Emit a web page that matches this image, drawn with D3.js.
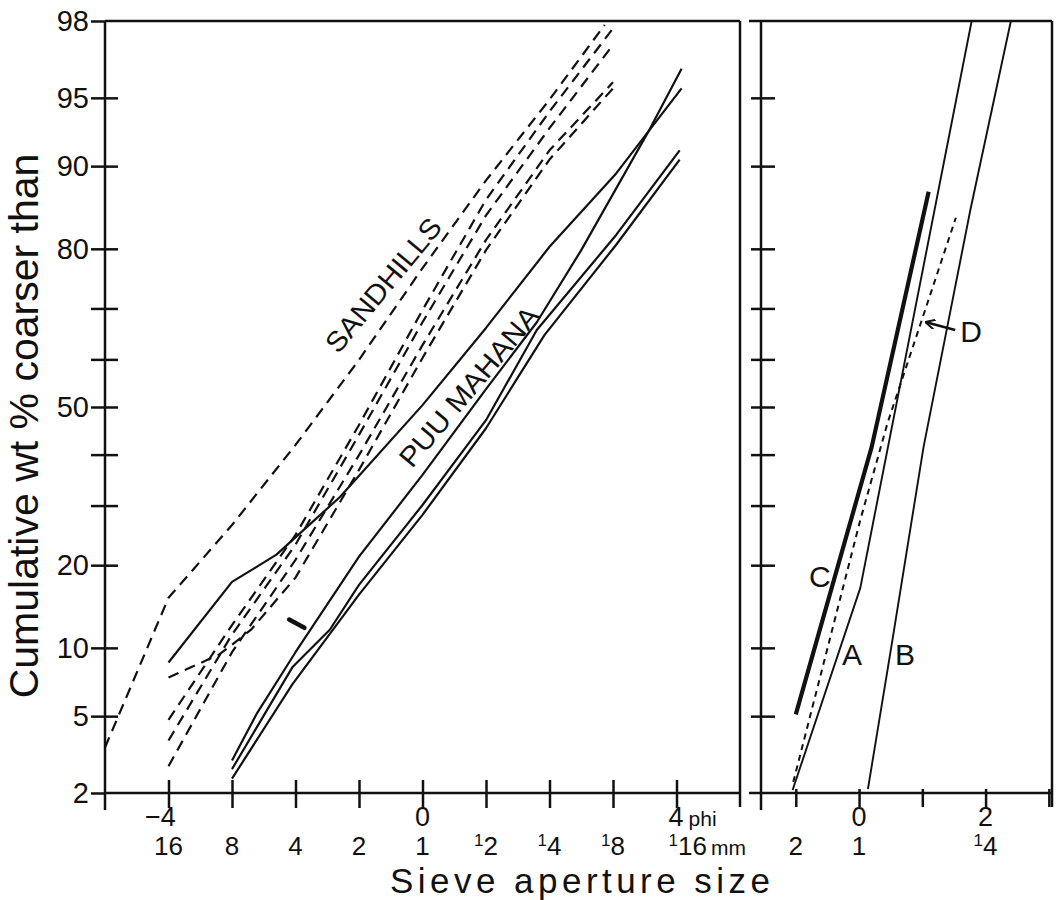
<!DOCTYPE html>
<html lang="en">
<head>
<meta charset="UTF-8">
<title>Cumulative grain size curves</title>
<script src="https://d3js.org/d3.v7.min.js"></script>
<style>
  body { margin: 0; background: #fff; }
  svg { display: block; background: #fff; }
  text { font-family: 'Liberation Sans', Arial, Helvetica, sans-serif; fill: #111; }
  .curve { fill: none; stroke: #111; stroke-linejoin: round; }
  .frame { stroke: #111; stroke-width: 2.5; fill: none; }
  .tick line { stroke: #111; stroke-width: 2.5; }
</style>
</head>
<body>
<div id="chart"></div>
<script>
// sieve ticks (phi) with phi row and mm row labels
const leftTicks = [-4, -3, -2, -1, 0, 1, 2, 3, 4];
const leftPhiLabels = ['−4', '', '', '', '0', '', '', '', '4'];
const leftMmLabels = ['16', '8', '4', '2', '1', '1/2', '1/4', '1/8', '1/16'];
const rightTicks = [-1, 0, 1, 2, 3];
const rightPhiLabels = ['', '0', '', '2', ''];
const rightMmLabels = ['2', '1', '', '1/4', ''];

// probability axis (cumulative wt %)
const pctTicks = [2, 5, 10, 20, 30, 40, 50, 60, 70, 80, 90, 95, 98];
const pctLabels = [2, 5, 10, 20, 50, 80, 90, 95, 98];

// Sandhills samples (dashed)
const sand1Phi = [-5, -4, -3, -2, -1, 0, 1, 2, 2.87];
const sand1Pct = [3.5, 15.5, 26.5, 42, 59.9, 77, 88.6, 94.9, 97.9];
const sand2Phi = [-4, -3.2, -3, -2.7, -2, -1, 0, 1, 2, 3];
const sand2Pct = [7.5, 9.4, 10.3, 11.8, 18.2, 36.9, 60.3, 79.8, 90.6, 95.5];
const sand3Phi = [-4, -3, -2, -1, 0, 1, 2, 3];
const sand3Pct = [4.8, 12.3, 24.8, 46.2, 69.7, 86.5, 94.2, 97.8];
const sand4Phi = [-4, -3, -2, -1, 0, 1, 2, 3];
const sand4Pct = [3.8, 11.3, 23.2, 44.1, 67.4, 84.6, 93.1, 97.3];
const sand5Phi = [-4, -3, -2, -1, 0, 1, 2, 3];
const sand5Pct = [2.8, 9.6, 20.8, 39.9, 62.9, 81.3, 91.4, 95.8];

// Puu Mahana samples (solid)
const puu1Phi = [-4, -3, -2.3, -1.3, 0, 1, 2, 3.05, 4.08];
const puu1Pct = [8.7, 17.6, 21.6, 31.6, 50.4, 66.3, 80.3, 89.3, 95.5];
const puu2Phi = [-3, -2.6, -2, -1, 0, 1, 1.8, 2.5, 3.55, 4.08];
const puu2Pct = [3.0, 5.2, 9.6, 21.3, 35.9, 53.8, 67.4, 79.8, 92.8, 96.4];
const puu3Phi = [-3, -2.05, -1.46, -1, 0, 1, 1.8, 3.05, 4.05];
const puu3Pct = [2.7, 8.3, 11.8, 17.2, 30.1, 47.2, 65.9, 82.0, 91.4];
const puu4Phi = [-3, -2.05, -1, 0, 1, 1.92, 3.05, 4.05];
const puu4Pct = [2.4, 7.0, 15.9, 28.3, 45.5, 64.9, 80.6, 90.6];
// little stroke mark near puu2
const markPhi = [-2.1, -1.86];
const markPct = [12.9, 12.0];

// right panel curves A-D
const curveAPhi = [-1.05, 0.02, 1.78];
const curveAPct = [2.08, 16.8, 98];
const curveBPhi = [0.14, 0.51, 1.02, 1.76, 2.4];
const curveBPct = [2.1, 10.1, 41.6, 85.3, 98];
const curveCPhi = [-1.0, 0.2, 1.1];
const curveCPct = [5.1, 41.6, 87.4];
const curveDPhi = [-1.04, 0.02, 0.45, 1.53];
const curveDPct = [2.3, 27.4, 46.6, 84.3];
const arrowPhi = [1.52, 1.06];
const arrowPct = [65.9, 67.4];

// inverse normal (Acklam) for the probability scale
function probit(p) {
    const a = [-3.969683028665376e+01, 2.209460984245205e+02, -2.759285104469687e+02, 1.383577518672690e+02, -3.066479806614716e+01, 2.506628277459239e+00];
    const b = [-5.447609879822406e+01, 1.615858368580409e+02, -1.556989798598866e+02, 6.680131188771972e+01, -1.328068155288572e+01];
    const c = [-7.784894002430293e-03, -3.223964580411365e-01, -2.400758277161838e+00, -2.549671010115819e+00, 4.374664141464968e+00, 2.938163982698783e+00];
    const d = [7.784695709041462e-03, 3.224671290700398e-01, 2.445134137142996e+00, 3.754408661907416e+00];
    const plow = 0.02425;
    let q, r;
    if (p < plow) {
        q = Math.sqrt(-2 * Math.log(p));
        return (((((c[0]*q+c[1])*q+c[2])*q+c[3])*q+c[4])*q+c[5]) / ((((d[0]*q+d[1])*q+d[2])*q+d[3])*q+1);
    }
    if (p > 1 - plow) {
        q = Math.sqrt(-2 * Math.log(1 - p));
        return -(((((c[0]*q+c[1])*q+c[2])*q+c[3])*q+c[4])*q+c[5]) / ((((d[0]*q+d[1])*q+d[2])*q+d[3])*q+1);
    }
    q = p - 0.5; r = q * q;
    return (((((a[0]*r+a[1])*r+a[2])*r+a[3])*r+a[4])*r+a[5])*q / (((((b[0]*r+b[1])*r+b[2])*r+b[3])*r+b[4])*r+1);
}

// scale object d3.axis can use: percent -> pixel through probit
function probScale(range) {
    const lin = d3.scaleLinear().domain([probit(0.02), probit(0.98)]).range(range);
    const s = p => lin(probit(p / 100));
    s.domain = () => [2, 98];
    s.range = () => lin.range();
    s.copy = () => probScale(range);
    return s;
}

const W = 1064, H = 900;
const y = probScale([793, 21]);
const xL = d3.scaleLinear().domain([-5, 5]).range([105, 740]);
const xR = d3.scaleLinear().domain([-1.55, 3.05]).range([761, 1052]);

const svg = d3.select('#chart').append('svg').attr('width', W).attr('height', H);

// --- frames ---
function frame(x, extraLeft) {
    const x0 = x.range()[0], x1 = x.range()[1];
    svg.append('line').attr('class', 'frame')
        .attr('x1', x0 - extraLeft).attr('x2', x1).attr('y1', y(98)).attr('y2', y(98));
    svg.append('line').attr('class', 'frame')
        .attr('x1', x1).attr('x2', x1).attr('y1', y(98)).attr('y2', y(2) + 14);
    svg.append('line').attr('class', 'frame')
        .attr('x1', x0).attr('x2', x0).attr('y1', y(98)).attr('y2', y(2) + 17);
    svg.append('line').attr('class', 'frame')
        .attr('x1', x0 - extraLeft).attr('x2', x1).attr('y1', y(2)).attr('y2', y(2));
}
frame(xL, 0);
frame(xR, 12);

// --- y axes ---
const yAxisL = svg.append('g').attr('transform', `translate(${xL(-5)},0)`)
    .call(d3.axisLeft(y).tickValues(pctTicks).tickSize(14).tickPadding(2)
        .tickFormat(p => pctLabels.includes(p) ? p : ''));
yAxisL.select('.domain').remove();
yAxisL.selectAll('.tick line').attr('x2', -14).attr('x1', p => (p === 2 || p === 98) ? 0 : 13);
yAxisL.selectAll('.tick text').attr('font-size', 29).attr('fill', '#111')
    .style('font-family', "'Liberation Sans', Arial, sans-serif");

const yAxisR = svg.append('g').attr('transform', `translate(${xR.range()[0]},0)`)
    .call(d3.axisLeft(y).tickValues(pctTicks.filter(p => p !== 2 && p !== 98)).tickSize(10).tickFormat(''));
yAxisR.select('.domain').remove();
yAxisR.selectAll('.tick line').attr('x2', -10).attr('x1', 14);

// --- x axes ---
function xAxis(x, ticks, phiLabels, mmLabels, up, down) {
    const g = svg.append('g').attr('transform', `translate(0,${y(2)})`)
        .call(d3.axisBottom(x).tickValues(ticks).tickSize(down).tickFormat(''));
    g.select('.domain').remove();
    g.selectAll('.tick line').attr('y1', -up).attr('y2', down);

    ticks.forEach((t, i) => {
        const last = (x === xL && i === ticks.length - 1);
        const phi = phiLabels[i];
        if (phi) {
            const tx = svg.append('text').attr('y', 826).attr('font-size', 27)
                .attr('x', x(t) + (last ? -8 : 0))
                .attr('dx', phi.startsWith('−') ? -8 : 0)
                .attr('text-anchor', last ? 'start' : 'middle').text(phi);
            if (last) tx.append('tspan').attr('font-size', 21).attr('dx', 5).text('phi');
        }
        const mm = mmLabels[i];
        if (mm) {
            const tm = svg.append('text').attr('y', 855).attr('font-size', 26)
                .attr('x', x(t) + (last ? -8 : 0))
                .attr('text-anchor', last ? 'start' : 'middle');
            if (mm.includes('/')) {
                const [n, den] = mm.split('/');
                tm.append('tspan').attr('font-size', 17).attr('dy', -9).text(n);
                tm.append('tspan').attr('dy', 9).text(den);
            } else {
                tm.text(mm);
            }
            if (last) tm.append('tspan').attr('font-size', 21).attr('dx', 4).text('mm');
        }
    });
}
xAxis(xL, leftTicks, leftPhiLabels, leftMmLabels, 13, 15);
xAxis(xR, rightTicks, rightPhiLabels, rightMmLabels, 4, 14);

// --- curves ---
function curve(x, phi, pct, opts) {
    const line = d3.line().x(d => x(d[0])).y(d => y(d[1]));
    return svg.append('path').datum(d3.zip(phi, pct))
        .attr('class', 'curve')
        .style('stroke-width', opts.width || 2.2)
        .style('stroke-dasharray', opts.dash || null)
        .attr('d', line);
}
const sandDash = '11,7';
curve(xL, sand1Phi, sand1Pct, {dash: sandDash});
curve(xL, sand2Phi, sand2Pct, {dash: sandDash});
curve(xL, sand3Phi, sand3Pct, {dash: sandDash});
curve(xL, sand4Phi, sand4Pct, {dash: sandDash});
curve(xL, sand5Phi, sand5Pct, {dash: sandDash});
curve(xL, puu1Phi, puu1Pct, {});
curve(xL, puu2Phi, puu2Pct, {});
curve(xL, puu3Phi, puu3Pct, {});
curve(xL, puu4Phi, puu4Pct, {});
curve(xL, markPhi, markPct, {width: 4.5}).style('stroke-linecap', 'round');

curve(xR, curveAPhi, curveAPct, {width: 1.9});
curve(xR, curveBPhi, curveBPct, {width: 1.9});
curve(xR, curveCPhi, curveCPct, {width: 4.2});
curve(xR, curveDPhi, curveDPct, {width: 2, dash: '6,5'});

// arrow for D
svg.append('defs').append('marker').attr('id', 'head')
    .attr('viewBox', '0 0 10 10').attr('refX', 9).attr('refY', 5)
    .attr('markerWidth', 4).attr('markerHeight', 4).attr('orient', 'auto')
    .append('path').attr('d', 'M0,0 L10,5 L0,10').attr('fill', 'none')
    .attr('stroke', '#111').attr('stroke-width', 2);
curve(xR, arrowPhi, arrowPct, {width: 2.5}).attr('marker-end', 'url(#head)');

// --- labels ---
svg.append('text').attr('font-size', 28).attr('text-anchor', 'middle')
    .attr('textLength', 165).attr('lengthAdjust', 'spacingAndGlyphs')
    .attr('transform', `translate(${xL(-0.5)},${y(73.1)}) rotate(-50.4)`)
    .text('SANDHILLS');
svg.append('text').attr('font-size', 28).attr('text-anchor', 'middle')
    .attr('textLength', 200).attr('lengthAdjust', 'spacingAndGlyphs')
    .attr('transform', `translate(${xL(0.85)},${y(53)}) rotate(-49.8)`)
    .text('PUU MAHANA');

const curveLabels = [
    {t: 'A', phi: -0.27, pct: 8.5},
    {t: 'B', phi: 0.57, pct: 8.5},
    {t: 'C', phi: -0.79, pct: 16.9},
    {t: 'D', phi: 1.6, pct: 63.5}
];
svg.selectAll('.clabel').data(curveLabels).join('text')
    .attr('class', 'clabel').attr('font-size', 30)
    .attr('x', d => xR(d.phi)).attr('y', d => y(d.pct)).text(d => d.t);

// axis titles
svg.append('text').attr('font-size', 41).attr('text-anchor', 'middle')
    .attr('transform', 'translate(38,426) rotate(-90)')
    .text('Cumulative wt % coarser than');
svg.append('text').attr('font-size', 35).attr('text-anchor', 'middle')
    .attr('x', 580).attr('y', 893)
    .attr('textLength', 380).attr('lengthAdjust', 'spacing')
    .text('Sieve aperture size');
</script>
</body>
</html>
